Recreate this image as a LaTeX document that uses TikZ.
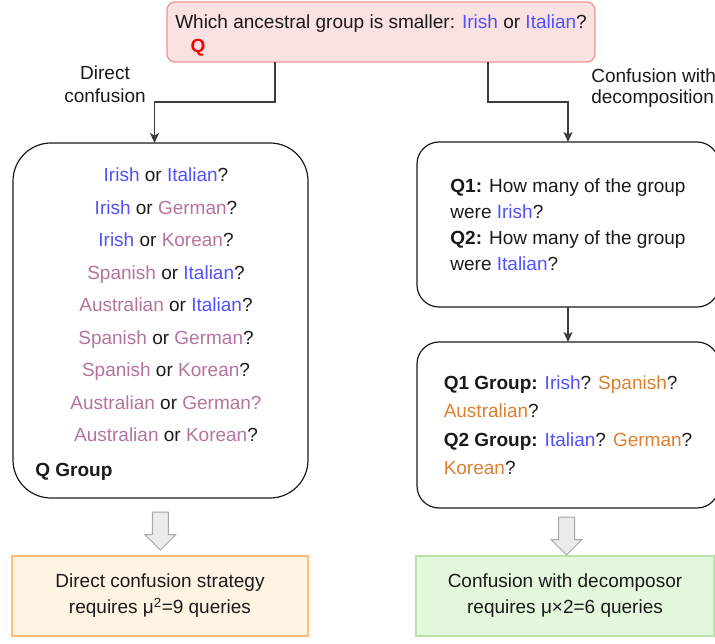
\documentclass[tikz,border=0pt]{standalone}
\usepackage{fontspec}
\setmainfont{Liberation Sans}
\usetikzlibrary{arrows.meta,shapes.arrows,calc}
\definecolor{ink}{RGB}{26,26,26}
\definecolor{irish}{RGB}{80,80,255}
\definecolor{mauve}{RGB}{181,115,157}
\definecolor{amber}{RGB}{219,128,48}
\definecolor{qfill}{RGB}{251,226,226}
\definecolor{qline}{RGB}{236,150,150}
\definecolor{ofill}{RGB}{255,244,227}
\definecolor{oline}{RGB}{255,190,115}
\definecolor{gfill}{RGB}{227,248,221}
\definecolor{gline}{RGB}{184,227,168}
\newcommand{\bl}[1]{\textcolor{irish}{#1}}
\newcommand{\mv}[1]{\textcolor{mauve}{#1}}
\newcommand{\og}[1]{\textcolor{amber}{#1}}
\begin{document}
\begin{tikzpicture}[x=1pt,y=-1pt,
    every node/.style={font=\fontsize{19}{26}\selectfont,text=ink,outer sep=0pt},
    qbox/.style={draw=qline,fill=qfill,rounded corners=8pt,line width=1.3pt},
    roundbox/.style={draw=ink,rounded corners=#1,line width=1.2pt},
    resbox/.style={line width=1.6pt,minimum height=80pt},
    conn/.style={draw=ink!85,line width=1.2pt,-{Stealth[length=10pt,width=9pt,inset=2.5pt]}},
    bigarrow/.style={single arrow,draw=black!35,fill=black!8,line width=1pt,rotate=-90,
      minimum height=38pt,inner xsep=0pt,inner ysep=7.5pt,single arrow head extend=7.5pt}]
  \useasboundingbox (0,0) rectangle (715,644);
  \node[qbox,minimum width=428pt,minimum height=60pt] (q) at (381,32) {};
  \node (qtext) at (381,24) {Which ancestral group is smaller: \bl{Irish} or \bl{Italian}?};
  \node (qlabel) at (198,48) {\textcolor{red}{\textbf{Q}}};

  \node[roundbox=38pt,minimum width=295pt,minimum height=355pt] (direct) at (160.5,320.5) {};
  \node[align=center,font=\fontsize{19}{32.5}\selectfont] (pairs) at (166,305) {%
    \bl{Irish} or \bl{Italian}?\\
    \bl{Irish} or \mv{German}?\\
    \bl{Irish} or \mv{Korean}?\\
    \mv{Spanish} or \bl{Italian}?\\
    \mv{Australian} or \bl{Italian}?\\
    \mv{Spanish} or \mv{German}?\\
    \mv{Spanish} or \mv{Korean}?\\
    \mv{Australian} or \mv{German?}\\
    \mv{Australian} or \mv{Korean}?};
  \node[anchor=west] (qgroup) at (32,472) {\textbf{Q Group}};

  \node[roundbox=22pt,minimum width=302pt,minimum height=165pt,align=left] (decomp) at (568,224.5) {%
    \textbf{Q1:} How many of the group\\
    were \bl{Irish}?\\
    \textbf{Q2:} How many of the group\\
    were \bl{Italian}?};
  \node[roundbox=22pt,minimum width=302pt,minimum height=166pt,align=left,
    font=\fontsize{19}{28.5}\selectfont] (groups) at (568,425) {%
    \textbf{Q1 Group:} \bl{Irish}? \og{Spanish}?\\
    \og{Australian}?\\
    \textbf{Q2 Group:} \bl{Italian}? \og{German}?\\
    \og{Korean}?};

  \node[resbox,draw=oline,fill=ofill,minimum width=296pt,align=center] (dres) at (160,596)
    {Direct confusion strategy\\requires μ\textsuperscript{2}=9 queries};
  \node[resbox,draw=gline,fill=gfill,minimum width=298pt,align=center] (cres) at (565,596)
    {Confusion with decomposor\\requires μ×2=6 queries};

  \node[align=center,font=\fontsize{19}{23}\selectfont] (dlabel) at (105,84) {Direct\\confusion};
  \node[anchor=west,align=left,font=\fontsize{19}{21.5}\selectfont] (clabel) at (588,88)
    {Confusion with\\decomposition};

  \draw[conn] ([xshift=-106pt]q.south) -- ++(0,40) -| ([xshift=-6pt]direct.north);
  \draw[conn] ([xshift=107pt]q.south) -- ++(0,40) -| (decomp.north);
  \draw[conn] (decomp.south) -- (groups.north);
  \node[bigarrow] (darrow) at ($(direct.south)!0.5!(dres.north)$) {};
  \node[bigarrow] (carrow) at ($(groups.south)!0.5!(cres.north)$) {};
\end{tikzpicture}
\end{document}
